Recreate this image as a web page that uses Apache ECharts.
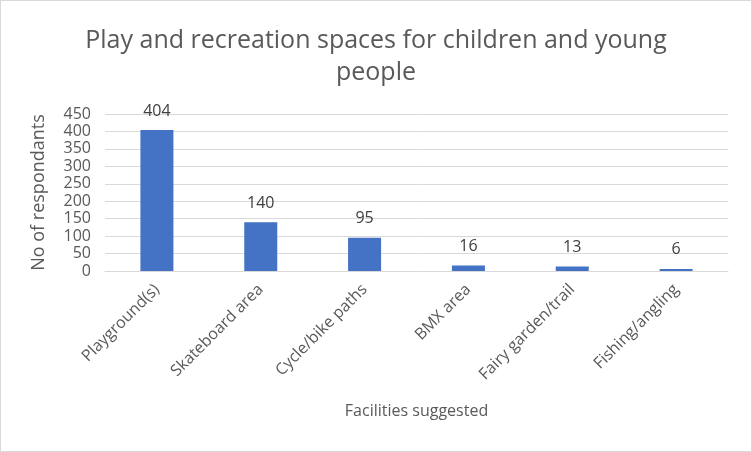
<!DOCTYPE html>
<html><head><meta charset="utf-8">
<script src="https://cdn.jsdelivr.net/npm/echarts@6/dist/echarts.min.js"></script>
<style>html,body{margin:0;padding:0;background:#fff}#c{width:752px;height:452px;box-sizing:border-box;border:1px solid #d9d9d9}</style>
</head><body><div id="c"></div>
<script>
const categories = ["Playground(s)", "Skateboard area", "Cycle/bike paths", "BMX area", "Fairy garden/trail", "Fishing/angling"];
const values = [404, 140, 95, 16, 13, 6];
const titleText = "Play and recreation spaces for children and young\npeople";
const font = "'Open Sans', 'Noto Sans', sans-serif";
const chart = echarts.init(document.getElementById('c'), null, {renderer: 'canvas'});
chart.setOption({
  animation: false,
  title: {text: titleText, left: 'center', top: 19, textStyle: {fontFamily: font, fontSize: 25, fontWeight: 'normal', color: '#595959', lineHeight: 32}},
  grid: {left: 104, right: 23, top: 113, bottom: 180, containLabel: false},
  xAxis: {type: 'category', data: categories, name: 'Facilities suggested', nameLocation: 'middle', nameGap: 132,
    nameTextStyle: {fontFamily: font, fontSize: 16, color: '#595959'},
    axisLine: {lineStyle: {color: '#d9d9d9', width: 1}}, axisTick: {show: false},
    axisLabel: {rotate: 45, interval: 0, margin: 16, fontFamily: font, fontSize: 16, color: '#595959'}},
  yAxis: {type: 'value', min: 0, max: 450, interval: 50, name: 'No of respondants', nameLocation: 'middle', nameGap: 57,
    nameTextStyle: {fontFamily: font, fontSize: 18, color: '#595959'},
    axisLine: {show: false}, axisTick: {show: false},
    axisLabel: {fontFamily: font, fontSize: 16, color: '#595959', margin: 14},
    splitLine: {lineStyle: {color: '#d9d9d9', width: 1}}},
  series: [{type: 'bar', data: values, barWidth: 33, itemStyle: {color: '#4472C4'},
    label: {show: true, position: 'top', distance: 11, fontFamily: font, fontSize: 16, color: '#404040'}}]
});
</script></body></html>
